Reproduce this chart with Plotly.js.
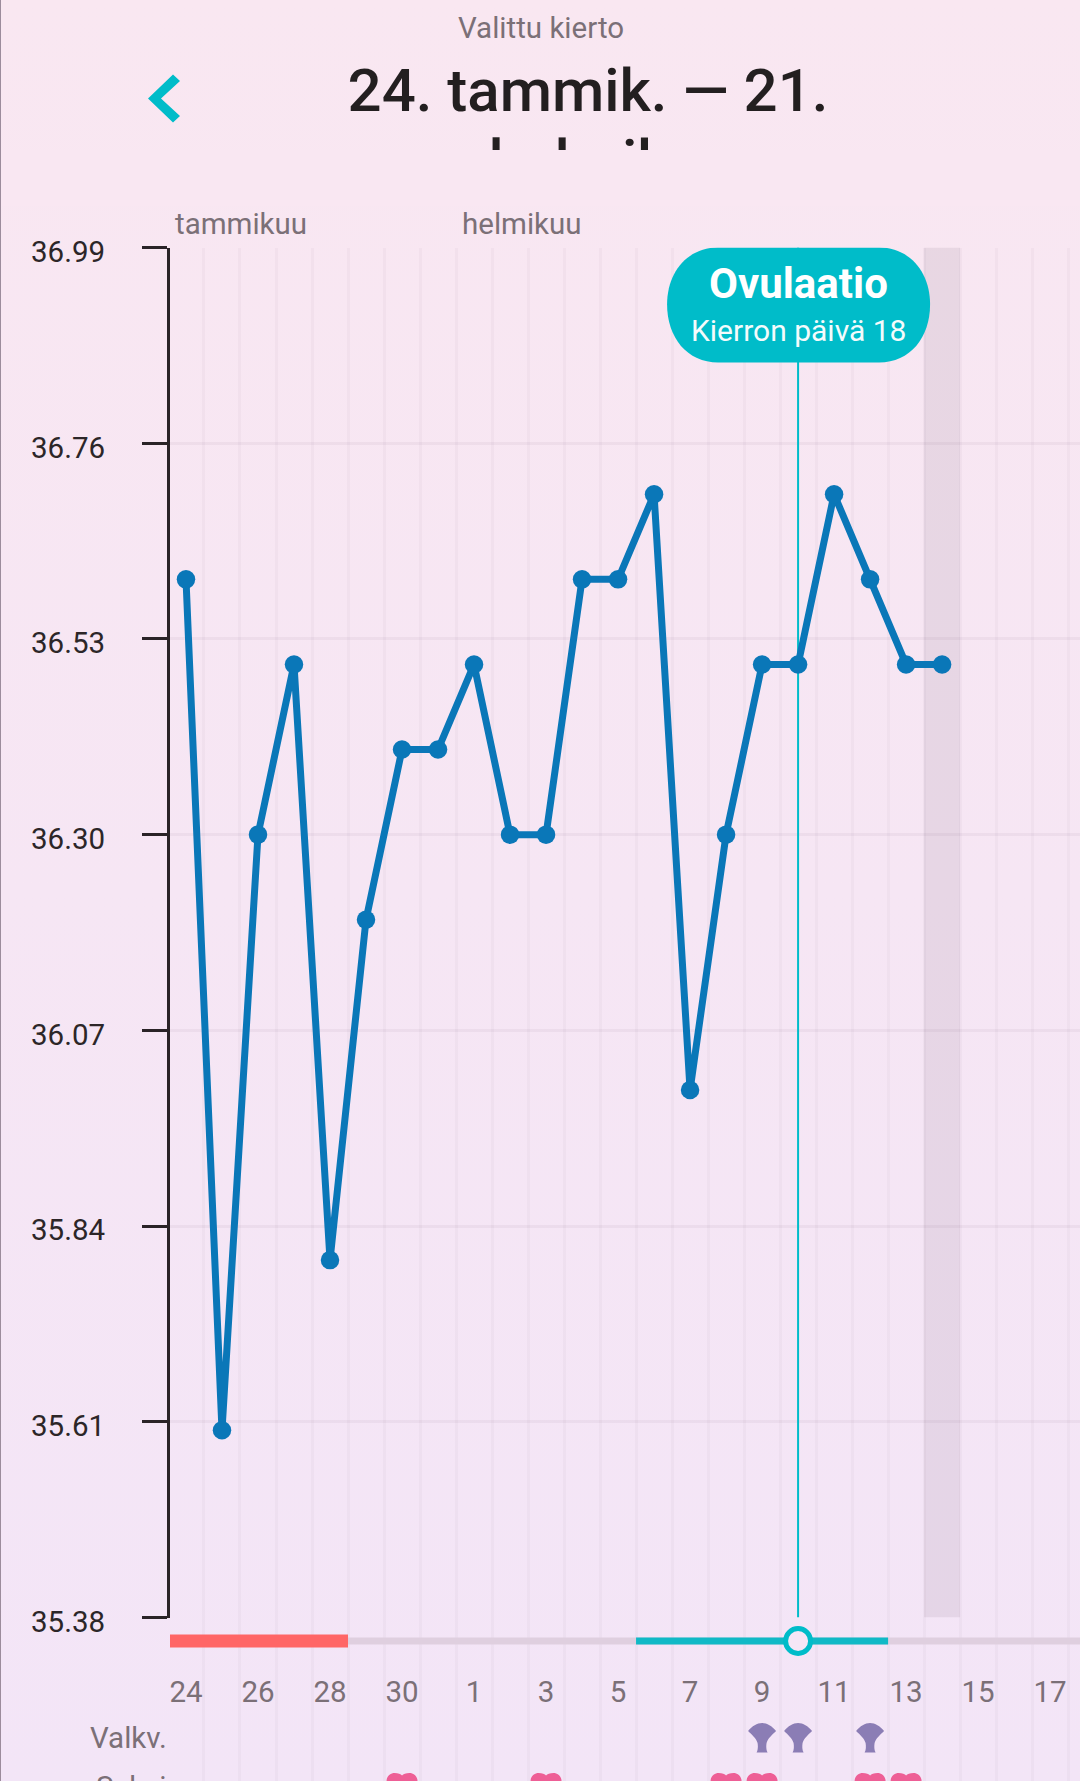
<!DOCTYPE html>
<html>
<head>
<meta charset="utf-8">
<script src="https://cdn.plot.ly/plotly-3.0.1.min.js"></script>
<style>
  html, body { margin: 0; padding: 0; width: 1080px; height: 1781px; overflow: hidden; }
  body { background: linear-gradient(to bottom, #f9e7f1, #f3e5f7); position: relative; }
  #edge { position: absolute; left: 0; top: 0; width: 1px; height: 1781px; background: #9c8c9c; z-index: 3; }
  #titleCut { position: absolute; left: 0; top: 150px; width: 1080px; height: 56px; background: #f9e7f2; z-index: 2; }
</style>
</head>
<body>
<div id="chart"></div>
<div id="titleCut"></div>
<div id="edge"></div>
<script>
const W = 1080, H = 1781;

// days on the x axis, index 0 is 24 Jan
const dayLabels = ['24','25','26','27','28','29','30','31','1','2','3','4','5','6','7','8','9','10','11','12','13','14','15','16','17'];
const labelledDays = [0,2,4,6,8,10,12,14,16,18,20,22,24];
const temps = [36.6,35.6,36.3,36.5,35.8,36.2,36.4,36.4,36.5,36.3,36.3,36.6,36.6,36.7,36.0,36.3,36.5,36.5,36.7,36.6,36.5,36.5];
const tempDays = temps.map((t, i) => i);
const yTicks = [35.38,35.61,35.84,36.07,36.30,36.53,36.76,36.99];

const periodDays = [-0.5,4.5];
const fertileDays = [12.5,19.5];
const cycleDays = [4.5,24.83];
const ovulationDay = 17;
const todayDay = 21;
const mucusDays = [16,17,19];
const sexDays = [6,10,15,16,19,20];

const months = ['tammikuu','helmikuu'];
const monthDays = [-0.36,7.62];

const teal = '#00bcc9';
const plotLeft = 170, plotTop = 247.5, plotBottom = 1617.5;
const stripY = 23.5, mucusY = 120.5, sexY = 169.5;   // rows in the lower strip, px below the plot
const py = px => 1 - px / H;
const px = v => (v - plotLeft) / (W - plotLeft);

const goblet = 'M -5.5 -14.5 L 5.5 -14.5 C 4 -12 4 -8 4.5 -5 C 6 0 10 3 14 7 C 10 12 5 15 0 15 C -5 15 -10 12 -14 7 C -10 3 -6 0 -4.5 -5 C -4 -8 -4 -12 -5.5 -14.5 Z';
const heart = 'M 0 -14 C -4 -9 -15.5 -3 -15.5 6 C -15.5 11 -11 14 -7.5 14 C -4 14 -1 13 0 11.5 C 1 13 4 14 7.5 14 C 11 14 15.5 11 15.5 6 C 15.5 -3 4 -9 0 -14 Z';
const bubble = 'M -80 0 L 81 0 C 112 0 132 -25 132 -57 C 132 -90 112 -115 81 -115 L -80 -115 C -111 -115 -131 -90 -131 -57 C -131 -25 -111 0 -80 0 Z';

function iconShape(path, day, row, color) {
    return {
        type: 'path', path: path, xref: 'x', yref: 'y2',
        xsizemode: 'pixel', ysizemode: 'pixel', xanchor: day, yanchor: row,
        fillcolor: color, line: { width: 0 }
    };
}

const graphData = [
    { x: cycleDays, y: [stripY, stripY], xaxis: 'x', yaxis: 'y2', mode: 'lines', line: { color: '#dfcfdf', width: 7 } },
    { x: fertileDays, y: [stripY, stripY], xaxis: 'x', yaxis: 'y2', mode: 'lines', line: { color: '#10b9c6', width: 7 } },
    { x: periodDays, y: [stripY, stripY], xaxis: 'x', yaxis: 'y2', mode: 'lines', line: { color: '#ff6666', width: 13 } },
    { x: [ovulationDay], y: [stripY], xaxis: 'x', yaxis: 'y2', mode: 'markers',
      marker: { size: 25, color: '#f5e6f6', line: { color: teal, width: 5 } } },
    { x: [ovulationDay, ovulationDay], y: [35.38, 36.99], mode: 'lines', line: { color: teal, width: 2 } },
    { x: tempDays, y: temps, mode: 'lines+markers',
      line: { color: '#0a77b8', width: 7 },
      marker: { color: '#0a77b8', size: 18.5 } }
];

const shapes = [
    { type: 'rect', xref: 'x', yref: 'y', x0: todayDay - 0.5, x1: todayDay + 0.5, y0: 35.38, y1: 36.99,
      fillcolor: 'rgba(100,80,100,0.10)', line: { width: 0 }, layer: 'below' },
    { type: 'path', xref: 'x', yref: 'y', xsizemode: 'pixel', ysizemode: 'pixel',
      xanchor: ovulationDay, yanchor: 36.99, path: bubble,
      fillcolor: teal, line: { width: 0 } },
    { type: 'path', xref: 'paper', yref: 'paper', xsizemode: 'pixel', ysizemode: 'pixel', xanchor: 0, yanchor: 1,
      path: 'M 3 -74.5 L 10 -81 L -9 -98.5 L 10 -116 L 3 -122.5 L -22 -98.5 Z',
      fillcolor: teal, line: { width: 0 } }
];
mucusDays.forEach(d => shapes.push(iconShape(goblet, d, mucusY, '#8b7db5')));
sexDays.forEach(d => shapes.push(iconShape(heart, d, sexY, '#ee5f96')));

const greyFont = { family: 'Roboto', size: 29.5, color: '#7b7077' };

function label(text, x, y, font, xanchor, xref) {
    return { text: text, x: x, y: py(y), xref: xref || 'paper', yref: 'paper',
             xanchor: xanchor || 'center', yanchor: 'middle', showarrow: false, font: font };
}

const annotations = [
    label('Valittu kierto', px(541), 28, greyFont),
    label('helmik.', px(587), 162, { family: 'Roboto', size: 60, weight: 500, color: '#231f20' }),
    label('Ovulaatio', ovulationDay, 284, { family: 'Roboto', size: 42, weight: 700, color: '#ffffff' }, 'center', 'x'),
    label('Kierron päivä 18', ovulationDay, 331, { family: 'Roboto', size: 30, color: '#f4fbfc' }, 'center', 'x'),
    label('Valkv.', px(169), 1738, greyFont, 'right'),
    label('Seksi', px(169), 1787, greyFont, 'right')
];
months.forEach((m, i) => annotations.push(label(m, monthDays[i], 224, greyFont, 'left', 'x')));

const layout = {
    width: W,
    height: H,
    margin: { l: plotLeft, r: 0, t: 0, b: 0 },
    paper_bgcolor: 'rgba(0,0,0,0)',
    plot_bgcolor: 'rgba(0,0,0,0)',
    showlegend: false,
    hovermode: false,
    title: {
        text: '24. tammik. — 21.',
        x: 588 / W,
        y: 1 - 90 / H,
        xanchor: 'center',
        yanchor: 'middle',
        font: { family: 'Roboto', size: 60, weight: 500, color: '#231f20' }
    },
    xaxis: {
        range: [-0.444, 24.83],
        domain: [0, 1],
        anchor: 'y',
        tickmode: 'array',
        tickvals: labelledDays,
        ticktext: labelledDays.map(d => dayLabels[d]),
        ticklabelstandoff: 54,
        ticks: '',
        showline: false,
        zeroline: false,
        showgrid: false,
        tickfont: greyFont,
        minor: { tickmode: 'linear', tick0: -0.5, dtick: 1, showgrid: true, gridcolor: 'rgba(110,70,110,0.04)', gridwidth: 3, ticks: '' }
    },
    yaxis: {
        range: [35.38, 36.99],
        domain: [(H - plotBottom) / H, 1 - plotTop / H],
        tickmode: 'array',
        tickvals: yTicks,
        tickformat: '.2f',
        ticks: 'outside',
        ticklen: 25,
        tickwidth: 3,
        tickcolor: '#2a2327',
        ticklabelstandoff: 31,
        ticklabelshift: 4,
        showline: true,
        linecolor: '#2a2327',
        linewidth: 3,
        zeroline: false,
        gridcolor: 'rgba(110,70,110,0.06)',
        gridwidth: 3,
        tickfont: { family: 'Roboto', size: 29.5, color: '#2c2628' }
    },
    yaxis2: {
        visible: false,
        domain: [0, (H - plotBottom) / H],
        range: [H - plotBottom, 0],
        anchor: 'x'
    },
    shapes: shapes,
    annotations: annotations
};

Plotly.newPlot('chart', graphData, layout, { displayModeBar: false, staticPlot: true });
</script>
</body>
</html>
